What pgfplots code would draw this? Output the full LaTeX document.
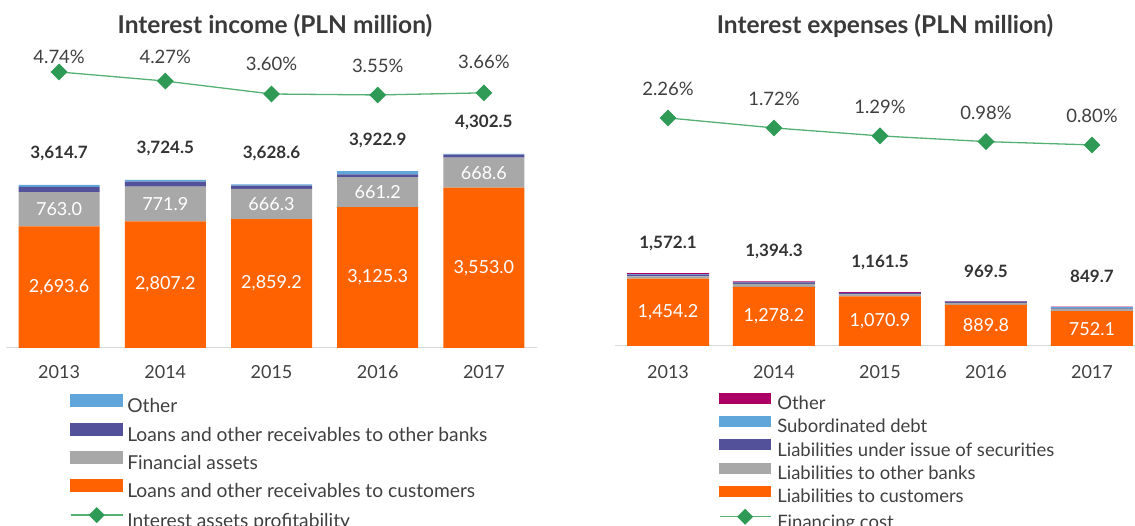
\documentclass[border=0pt]{standalone}
\usepackage{pgfplots}
\pgfplotsset{compat=1.18}
\usepackage{fontspec}
\setmainfont{Lato}
\definecolor{ingorange}{HTML}{FF6200}
\definecolor{inggrey}{HTML}{A8A8A8}
\definecolor{ingdblue}{HTML}{525199}
\definecolor{inglblue}{HTML}{60A6DA}
\definecolor{ingmag}{HTML}{AB0066}
\definecolor{lgreen}{HTML}{55B073}
\definecolor{mgreen}{HTML}{2F9A55}
\definecolor{txt}{HTML}{404040}
\definecolor{axgrey}{HTML}{D9D9D9}
\newcommand{\fs}[1]{\fontsize{#1}{#1}\selectfont}
\tikzset{
  inlbl/.style={font=\fs{18}, text=white},
  totlbl/.style={font=\bfseries\fs{17}, text=txt!80!black},
  pctlbl/.style={font=\fs{18.5}, text=txt},
}
\pgfplotsset{
  barbase/.style={
    scale only axis, height=300pt, clip=false,
    ybar stacked, ymin=0,
    hide y axis, axis x line*=bottom,
    x axis line style={-, draw=axgrey, line width=1pt},
    xtick={0,1,2,3,4}, xticklabels={2013,2014,2015,2016,2017},
    major tick length=0pt,
    xticklabel style={font=\fs{18}, text=txt, anchor=base},
  },
  lblbase/.style={
    scale only axis, height=300pt, clip=false, hide axis, ymin=0,
  },
  linebase/.style={
    scale only axis, height=300pt, clip=false,
    hide x axis, hide y axis,
    legend cell align=left,
  },
}
\begin{document}
\begin{tikzpicture}[x=1pt,y=1pt]
\useasboundingbox (0pt,0pt) rectangle (1135pt,526pt);
% titles
\node[font=\bfseries\fs{24.5}, text=txt!90!black] at (275pt,500pt) {Interest income (PLN million)};
\node[font=\bfseries\fs{24.5}, text=txt!90!black] at (885pt,500pt) {Interest expenses (PLN million)};

%================ LEFT ================
\begin{axis}[barbase, at={(6pt,178pt)}, anchor=south west, width=531pt,
  xmin=-0.5, xmax=4.5, ymax=6650, bar width=81pt,
  xticklabel style={yshift=-31pt}]
\addplot[fill=ingorange, draw=none] coordinates {(0,2693.6) (1,2807.2) (2,2859.2) (3,3125.3) (4,3553.0)};
\addplot[fill=inggrey, draw=none] coordinates {(0,763.0) (1,771.9) (2,666.3) (3,661.2) (4,668.6)};
\addplot[fill=ingdblue, draw=none] coordinates {(0,113.1) (1,110.4) (2,73.1) (3,61.4) (4,65.9)};
\addplot[fill=inglblue, draw=none] coordinates {(0,45) (1,35) (2,30) (3,75) (4,15)};
\end{axis}
\begin{axis}[lblbase, at={(6pt,178pt)}, anchor=south west, width=531pt,
  xmin=-0.5, xmax=4.5, ymax=6650]
\node[inlbl] at (axis cs:0,1346.8) {2,693.6};
\node[inlbl] at (axis cs:1,1403.6) {2,807.2};
\node[inlbl] at (axis cs:2,1429.6) {2,859.2};
\node[inlbl] at (axis cs:3,1562.65) {3,125.3};
\node[inlbl] at (axis cs:4,1776.5) {3,553.0};
\node[inlbl] at (axis cs:0,3075.1) {763.0};
\node[inlbl] at (axis cs:1,3193.15) {771.9};
\node[inlbl] at (axis cs:2,3192.35) {666.3};
\node[inlbl] at (axis cs:3,3455.9) {661.2};
\node[inlbl] at (axis cs:4,3887.3) {668.6};
\node[totlbl, yshift=31pt] at (axis cs:0,3614.7) {3,614.7};
\node[totlbl, yshift=31pt] at (axis cs:1,3724.5) {3,724.5};
\node[totlbl, yshift=31pt] at (axis cs:2,3628.6) {3,628.6};
\node[totlbl, yshift=31pt] at (axis cs:3,3922.9) {3,922.9};
\node[totlbl, yshift=31pt] at (axis cs:4,4302.5) {4,302.5};
\end{axis}
\begin{axis}[linebase, at={(6pt,178pt)}, anchor=south west, width=531pt,
  xmin=-0.5, xmax=4.5, ymin=-9.54, ymax=5.98,
  legend style={at={(axis description cs:0.1205,-0.1547)}, anchor=north west,
    draw=none, fill=none, inner sep=0pt, outer sep=0pt,
    font=\fs{19.2}, text=txt, row sep=5.4pt, column sep=4pt,
    nodes={inner sep=0pt, text height=15pt, text depth=4.5pt}}]
\addlegendimage{legend image code/.code={\fill[inglblue] (0pt,0.9pt) rectangle (52pt,12.9pt);}}
\addlegendentry{Other}
\addlegendimage{legend image code/.code={\fill[ingdblue] (0pt,0.9pt) rectangle (52pt,12.9pt);}}
\addlegendentry{Loans and other receivables to other banks}
\addlegendimage{legend image code/.code={\fill[inggrey] (0pt,0.9pt) rectangle (52pt,12.9pt);}}
\addlegendentry{Financial assets}
\addlegendimage{legend image code/.code={\fill[ingorange] (0pt,0.9pt) rectangle (52pt,12.9pt);}}
\addlegendentry{Loans and other receivables to customers}
\addplot[lgreen, line width=1.3pt, mark=square*, mark size=5.3pt,
  mark options={rotate=45, fill=mgreen, draw=mgreen},
  legend image code/.code={\draw[lgreen, line width=1.3pt] (0pt,6.9pt) -- (52pt,6.9pt);
    \fill[mgreen, rotate around={45:(26pt,6.9pt)}] (21pt,1.9pt) rectangle (31pt,11.9pt);}]
  coordinates {(0,4.74) (1,4.27) (2,3.60) (3,3.55) (4,3.66)};
\addlegendentry{Interest assets profitability}
\node[pctlbl, yshift=15pt] at (axis cs:0,4.74) {4.74\%};
\node[pctlbl, yshift=24pt] at (axis cs:1,4.27) {4.27\%};
\node[pctlbl, yshift=30pt] at (axis cs:2,3.60) {3.60\%};
\node[pctlbl, yshift=29pt] at (axis cs:3,3.55) {3.55\%};
\node[pctlbl, yshift=31pt] at (axis cs:4,3.66) {3.66\%};
\end{axis}

%================ RIGHT ================
\begin{axis}[barbase, at={(615pt,180pt)}, anchor=south west, width=520pt,
  xmin=-0.5, xmax=4.406, ymax=6480, bar width=82pt,
  xticklabel style={yshift=-33pt}]
\addplot[fill=ingorange, draw=none] coordinates {(0,1454.2) (1,1278.2) (2,1070.9) (3,889.8) (4,752.1)};
\addplot[fill=inggrey, draw=none] coordinates {(0,50) (1,65) (2,45) (3,40) (4,50)};
\addplot[fill=ingdblue, draw=none] coordinates {(0,35) (1,30) (2,25) (3,22) (4,12)};
\addplot[fill=inglblue, draw=none] coordinates {(0,13) (1,5) (2,8) (3,7) (4,25)};
\addplot[fill=ingmag, draw=none] coordinates {(0,19.9) (1,16.1) (2,12.6) (3,10.7) (4,10.6)};
\end{axis}
\begin{axis}[lblbase, at={(615pt,180pt)}, anchor=south west, width=520pt,
  xmin=-0.5, xmax=4.406, ymax=6480]
\node[inlbl] at (axis cs:0,727.1) {1,454.2};
\node[inlbl] at (axis cs:1,639.1) {1,278.2};
\node[inlbl] at (axis cs:2,535.45) {1,070.9};
\node[inlbl] at (axis cs:3,444.9) {889.8};
\node[inlbl] at (axis cs:4,376.05) {752.1};
\node[totlbl, yshift=30pt] at (axis cs:0,1572.1) {1,572.1};
\node[totlbl, yshift=30pt] at (axis cs:1,1394.3) {1,394.3};
\node[totlbl, yshift=30pt] at (axis cs:2,1161.5) {1,161.5};
\node[totlbl, yshift=30pt] at (axis cs:3,969.5) {969.5};
\node[totlbl, yshift=30pt] at (axis cs:4,849.7) {849.7};
\end{axis}
\begin{axis}[linebase, at={(615pt,180pt)}, anchor=south west, width=520pt,
  xmin=-0.5, xmax=4.406, ymin=-10.07, ymax=6.15,
  legend style={at={(axis description cs:0.2,-0.157)}, anchor=north west,
    draw=none, fill=none, inner sep=0pt, outer sep=0pt,
    font=\fs{18.5}, text=txt, row sep=2.6pt, column sep=6pt,
    nodes={inner sep=0pt, text height=13.5pt, text depth=4pt}}]
\addlegendimage{legend image code/.code={\fill[ingmag] (0pt,1.65pt) rectangle (51pt,11.65pt);}}
\addlegendentry{Other}
\addlegendimage{legend image code/.code={\fill[inglblue] (0pt,1.65pt) rectangle (51pt,11.65pt);}}
\addlegendentry{Subordinated debt}
\addlegendimage{legend image code/.code={\fill[ingdblue] (0pt,1.65pt) rectangle (51pt,11.65pt);}}
\addlegendentry{Liabilities under issue of securities}
\addlegendimage{legend image code/.code={\fill[inggrey] (0pt,1.65pt) rectangle (51pt,11.65pt);}}
\addlegendentry{Liabilities to other banks}
\addlegendimage{legend image code/.code={\fill[ingorange] (0pt,1.65pt) rectangle (51pt,11.65pt);}}
\addlegendentry{Liabilities to customers}
\addplot[lgreen, line width=1.3pt, mark=square*, mark size=5.3pt,
  mark options={rotate=45, fill=mgreen, draw=mgreen},
  legend image code/.code={\draw[lgreen, line width=1.3pt] (0pt,6.65pt) -- (51pt,6.65pt);
    \fill[mgreen, rotate around={45:(25.5pt,6.65pt)}] (20.5pt,1.65pt) rectangle (30.5pt,11.65pt);}]
  coordinates {(0,2.26) (1,1.72) (2,1.29) (3,0.98) (4,0.80)};
\addlegendentry{Financing cost}
\node[pctlbl, yshift=29pt] at (axis cs:0,2.26) {2.26\%};
\node[pctlbl, yshift=29pt] at (axis cs:1,1.72) {1.72\%};
\node[pctlbl, yshift=29pt] at (axis cs:2,1.29) {1.29\%};
\node[pctlbl, yshift=29pt] at (axis cs:3,0.98) {0.98\%};
\node[pctlbl, yshift=29pt] at (axis cs:4,0.80) {0.80\%};
\end{axis}
\end{tikzpicture}
\end{document}
